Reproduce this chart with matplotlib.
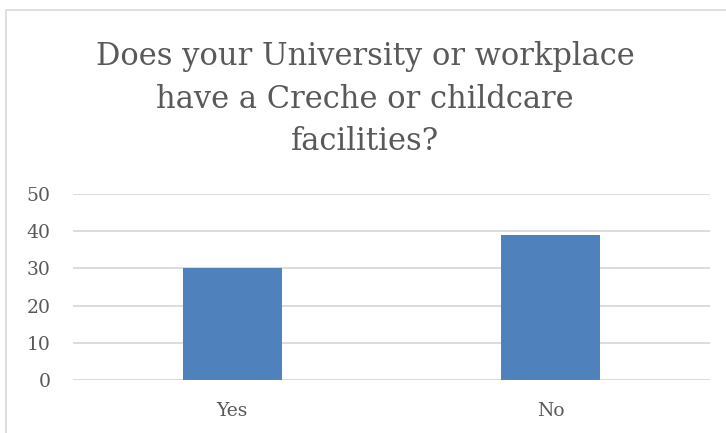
import matplotlib.pyplot as plt
from matplotlib.patches import Rectangle

categories = ['Yes', 'No']
counts = [30, 39]
y_ticks = [0, 10, 20, 30, 40, 50]
title = 'Does your University or workplace\nhave a Creche or childcare\nfacilities?'

plt.rcParams['font.family'] = ['DejaVu Serif']

fig = plt.figure(figsize=(7.26, 4.33), dpi=100)
ax = fig.add_axes([73/726, 1 - 380/433, (710 - 73)/726, (380 - 194)/433])

x = list(range(len(categories)))
ax.bar(x, counts, width=0.31, color='#4f81bd', zorder=3)
ax.set_xlim(-0.5, 1.5)
ax.set_ylim(0, 50)
ax.set_yticks(y_ticks)
ax.set_xticks(x)
ax.set_xticklabels(categories)
ax.yaxis.grid(True, color='#d9d9d9', linewidth=1.3, zorder=0)
for s in ax.spines.values():
    s.set_visible(False)
ax.tick_params(length=0, labelsize=13.5, labelcolor='#595959')
ax.tick_params(axis='y', pad=16)
ax.tick_params(axis='x', pad=16)

fig.text(0.503, 1 - 99/433, title, ha='center', va='center',
         fontsize=22, color='#595959', linespacing=1.47)

# chart frame
fig.add_artist(Rectangle((6/726, -0.1), 1.1, (433 - 10)/433 + 0.1,
                         transform=fig.transFigure, fill=False,
                         edgecolor='#d9d9d9', linewidth=1.2))

fig.savefig('out.png', dpi=100)
